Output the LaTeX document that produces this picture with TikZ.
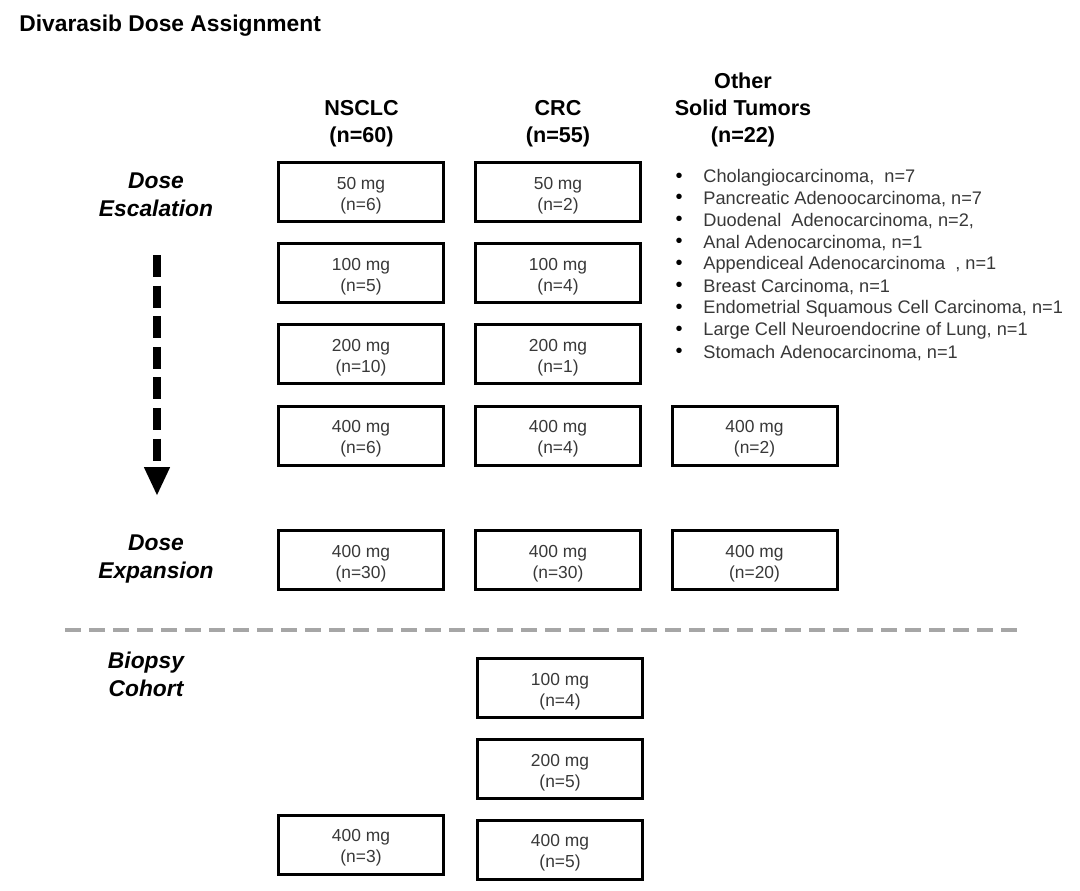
\documentclass[tikz,border=0pt]{standalone}
\usepackage{fontspec}
\setmainfont{Liberation Sans}
\usetikzlibrary{arrows.meta}

\begin{document}
\begin{tikzpicture}
[x=0.5pt,y=-0.5pt,
  doseDecorate/.style={shape=rectangle,draw,line width=1.5pt,minimum width=82.5pt,
    minimum height=29.5pt,inner sep=0pt,align=center,text=black!78,
    font=\fontsize{8.7}{10.5}\selectfont},%
  headDecorate/.style={align=center,font=\fontsize{10.8}{13.5}\selectfont\bfseries},%
  rowDecorate/.style={align=center,font=\fontsize{11.4}{14}\selectfont\bfseries\itshape},%
  itemDecorate/.style={anchor=west,inner sep=0pt,text=black!78,font=\fontsize{9.1}{10}\selectfont},%
  lineDecorate/.style={line width=4pt,dash pattern=on 11pt off 4.3pt,
    -{Triangle[length=14.5pt,width=12pt]}},%
  sepDecorate/.style={line width=1.8pt,draw=black!35,dash pattern=on 8pt off 4pt}]
\useasboundingbox (0,0) rectangle (1080,890);
%% title
\node (title) at (19,31) [anchor=base west,inner sep=0pt,font=\fontsize{11.4}{14}\selectfont\bfseries]
  {Divarasib Dose Assignment};
%% column heads
\node (nsclc) at (361.5,123.5) [headDecorate] {NSCLC\\(n=60)};
\node (crc) at (558,123.5) [headDecorate] {CRC\\(n=55)};
\node (other) at (743,109.5) [headDecorate] {Other\\Solid Tumors\\(n=22)};
%% row labels
\node (escal) at (156,195) [rowDecorate] {Dose\\Escalation};
\node (expan) at (156,559) [rowDecorate] {Dose\\Expansion};
\node (biopsy) at (146,674.5) [rowDecorate] {Biopsy\\Cohort};
%% dose boxes
\foreach \nodename/\x/\y/\dose/\n in {
  nA/361/192/50/6, nB/361/273/100/5, nC/361/354/200/10, nD/361/435.5/400/6,
  nE/361/560/400/30, nF/361/844.5/400/3,
  cA/558/192/50/2, cB/558/273/100/4, cC/558/354/200/1, cD/558/435.5/400/4,
  cE/558/560/400/30, cF/560/688/100/4, cG/560/769/200/5, cH/560/849.5/400/5,
  oD/754.5/435.5/400/2, oE/754.5/560/400/20}
{
  \node (\nodename) at (\x,\y) [doseDecorate] {\rule{0pt}{9.5pt}\dose{} mg\\(n=\n)};
}
%% other solid tumors
\foreach \i/\txt in {
  1/{Cholangiocarcinoma,~ n=7},
  2/{Pancreatic Adenoocarcinoma, n=7},
  3/{Duodenal~ Adenocarcinoma, n=2,},
  4/{Anal Adenocarcinoma, n=1},
  5/{Appendiceal Adenocarcinoma~ , n=1},
  6/{Breast Carcinoma, n=1},
  7/{Endometrial Squamous Cell Carcinoma, n=1},
  8/{Large Cell Neuroendocrine of Lung, n=1},
  9/{Stomach Adenocarcinoma, n=1}}
{
  \node (bul\i) at (679,155.5+21.9*\i) [inner sep=0pt,font=\fontsize{10}{10}\selectfont] {\textbullet};
  \node (item\i) at (703,155.5+21.9*\i) [itemDecorate] {\txt};
}
%% arrow and separator
\coordinate (arrTop) at (157,255);
\coordinate (arrEnd) at (157,496);
\draw[lineDecorate] (arrTop) -- (arrEnd);
\coordinate (sepL) at (65,630);
\coordinate (sepR) at (1020,630);
\draw[sepDecorate] (sepL) -- (sepR);
\end{tikzpicture}
\end{document}
